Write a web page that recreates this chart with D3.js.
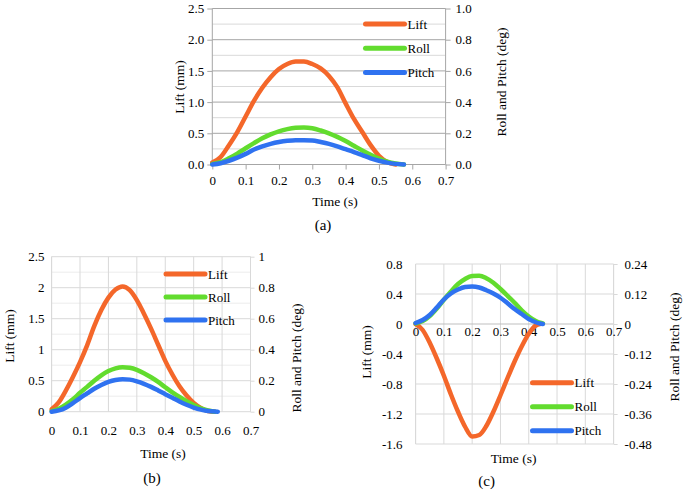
<!DOCTYPE html>
<html>
<head>
<meta charset="utf-8">
<script src="https://cdn.jsdelivr.net/npm/d3@7/dist/d3.min.js"></script>
<style>
html,body{margin:0;padding:0;background:#fff;}
svg{display:block;}
svg text{font-family:"Liberation Serif","Times New Roman",serif !important;fill:#000;}
</style>
</head>
<body>
<svg id="chart" width="685" height="492"></svg>
<script>
// ---------- DATA ----------
const seriesNames = ["Lift", "Roll", "Pitch"];
const xTicks = [0, 0.1, 0.2, 0.3, 0.4, 0.5, 0.6, 0.7];

// Panel (a)
const timeA  = [0,0.025,0.05,0.075,0.1,0.125,0.15,0.175,0.2,0.225,0.25,0.275,0.3,0.325,0.35,0.375,0.4,0.425,0.45,0.475,0.5,0.525,0.55,0.575];
const liftA  = [0.03,0.12,0.31,0.52,0.77,1.02,1.23,1.40,1.53,1.61,1.65,1.65,1.61,1.54,1.42,1.24,0.98,0.73,0.52,0.31,0.14,0.04,0.0,null];
const rollA  = [0.004,0.015,0.04,0.07,0.104,0.137,0.168,0.193,0.213,0.227,0.235,0.237,0.232,0.218,0.2,0.177,0.15,0.12,0.09,0.062,0.038,0.018,0.006,0.0];
const pitchA = [0,0.008,0.024,0.044,0.068,0.096,0.116,0.132,0.144,0.152,0.156,0.156,0.154,0.144,0.132,0.116,0.098,0.08,0.06,0.04,0.024,0.012,0.004,0.0];
const leftTicksA  = [0, 0.5, 1.0, 1.5, 2.0, 2.5];
const rightTicksA = [0, 0.2, 0.4, 0.6, 0.8, 1.0];

// Panel (b)
const timeB  = [0,0.025,0.05,0.075,0.1,0.125,0.15,0.175,0.2,0.225,0.25,0.275,0.3,0.325,0.35,0.375,0.4,0.425,0.45,0.475,0.5,0.525,0.55,0.575,0.585];
const liftB  = [0.04,0.15,0.34,0.56,0.80,1.07,1.38,1.64,1.84,1.97,2.02,1.96,1.80,1.58,1.34,1.08,0.82,0.60,0.41,0.26,0.14,0.06,0.01,0.0,null];
const rollB  = [0.004,0.018,0.045,0.08,0.122,0.16,0.2,0.235,0.262,0.28,0.287,0.283,0.27,0.248,0.222,0.192,0.158,0.125,0.095,0.067,0.043,0.022,0.008,0.0,null];
const pitchB = [0,0.008,0.026,0.055,0.088,0.118,0.148,0.172,0.192,0.205,0.21,0.207,0.196,0.18,0.16,0.137,0.113,0.09,0.066,0.045,0.027,0.013,0.005,0.001,0.0];
const leftTicksB  = [0, 0.5, 1, 1.5, 2, 2.5];
const rightTicksB = [0, 0.2, 0.4, 0.6, 0.8, 1];

// Panel (c)
const timeC  = [0,0.025,0.05,0.075,0.1,0.125,0.15,0.175,0.2,0.225,0.25,0.275,0.3,0.325,0.35,0.375,0.4,0.425,0.44,0.45];
const liftC  = [0,-0.08,-0.25,-0.46,-0.69,-0.94,-1.17,-1.37,-1.50,-1.48,-1.36,-1.17,-0.95,-0.72,-0.50,-0.30,-0.13,-0.02,0.0,null];
const rollC  = [0.002,0.012,0.032,0.062,0.097,0.13,0.16,0.18,0.192,0.193,0.183,0.165,0.14,0.113,0.085,0.055,0.03,0.012,0.005,0.002];
const pitchC = [0.004,0.016,0.036,0.066,0.098,0.122,0.138,0.148,0.15,0.146,0.135,0.122,0.105,0.083,0.06,0.04,0.02,0.007,0.002,0.0];
const leftTicksC  = [-1.6, -1.2, -0.8, -0.4, 0, 0.4, 0.8];
const rightTicksC = [-0.48, -0.36, -0.24, -0.12, 0, 0.12, 0.24];

// ---------- STYLE ----------
const FONT = '"Liberation Serif","Times New Roman",serif';
const colors = {Lift: "#F4672A", Roll: "#62DC2E", Pitch: "#2F72F0"};
const svg = d3.select("#chart");

function fmtNum(d, fixed) {
  return fixed ? d.toFixed(1) : String(+d.toFixed(2));
}

function panel(cfg) {
  const g = svg.append("g").style("font-family", FONT);
  const x = d3.scaleLinear().domain([0, 0.7]).range([cfg.left, cfg.right]);
  const yL = d3.scaleLinear().domain(cfg.yDomain).range([cfg.bottom, cfg.top]);
  const yR = d3.scaleLinear().domain(cfg.y2Domain).range([cfg.bottom, cfg.top]);

  if (cfg.minorY) {
    g.selectAll(".minor").data(cfg.minorY).enter().append("line")
      .attr("x1", cfg.left).attr("x2", cfg.right)
      .attr("y1", d => yL(d)).attr("y2", d => yL(d))
      .attr("stroke", cfg.minorColor).attr("stroke-width", 1);
  }
  if (cfg.vgrid) {
    g.selectAll(".vg").data(xTicks).enter().append("line")
      .attr("x1", d => x(d)).attr("x2", d => x(d))
      .attr("y1", cfg.top).attr("y2", cfg.bottom)
      .attr("stroke", cfg.gridColor).attr("stroke-width", 1);
  }
  g.selectAll(".maj").data(cfg.leftTicks).enter().append("line")
    .attr("x1", cfg.left).attr("x2", cfg.right)
    .attr("y1", d => yL(d)).attr("y2", d => yL(d))
    .attr("stroke", d => d === 0 ? cfg.zeroColor : cfg.gridColor).attr("stroke-width", 1);

  [cfg.left, cfg.right].forEach(xx => {
    g.append("line").attr("x1", xx).attr("x2", xx).attr("y1", cfg.top).attr("y2", cfg.bottom)
      .attr("stroke", cfg.axisColor).attr("stroke-width", 1);
  });

  const axL = d3.axisLeft(yL).tickValues(cfg.leftTicks).tickSize(cfg.leftTickSize)
    .tickPadding(cfg.leftPad).tickFormat(d => fmtNum(d, cfg.fixedLeft));
  const gL = g.append("g").attr("transform", `translate(${cfg.left},0)`).call(axL);
  const axR = d3.axisRight(yR).tickValues(cfg.rightTicks).tickSize(cfg.rightTickSize)
    .tickPadding(cfg.rightPad).tickFormat(d => fmtNum(d, cfg.fixedRight));
  const gR = g.append("g").attr("transform", `translate(${cfg.right},0)`).call(axR);
  const axB = d3.axisBottom(x).tickValues(xTicks).tickSize(cfg.bottomTickSize)
    .tickPadding(cfg.bottomPad).tickFormat(d => String(d));
  const gB = g.append("g").attr("transform", `translate(0,${yL(0)})`).call(axB);

  [gL, gR, gB].forEach(a => {
    a.attr("font-family", FONT).attr("font-size", cfg.fontSize);
    a.select(".domain").remove();
    a.selectAll(".tick line").attr("stroke", cfg.axisColor);
    a.selectAll(".tick text").style("font-family", FONT).attr("font-size", cfg.fontSize).attr("fill", "#000");
  });

  const lineL = d3.line().defined(d => d[1] !== null).x(d => x(d[0])).y(d => yL(d[1])).curve(d3.curveMonotoneX);
  const lineR = d3.line().defined(d => d[1] !== null).x(d => x(d[0])).y(d => yR(d[1])).curve(d3.curveMonotoneX);
  const pairs = (t, v) => t.map((tt, i) => [tt, v[i] === undefined ? null : v[i]]);
  g.append("path").attr("d", lineL(pairs(cfg.time, cfg.lift))).attr("fill", "none")
    .attr("stroke", colors.Lift).attr("stroke-width", 4.5).attr("stroke-linecap", "round").attr("stroke-linejoin", "round");
  g.append("path").attr("d", lineR(pairs(cfg.time, cfg.roll))).attr("fill", "none")
    .attr("stroke", colors.Roll).attr("stroke-width", 4.5).attr("stroke-linecap", "round").attr("stroke-linejoin", "round");
  g.append("path").attr("d", lineR(pairs(cfg.time, cfg.pitch))).attr("fill", "none")
    .attr("stroke", colors.Pitch).attr("stroke-width", 4.5).attr("stroke-linecap", "round").attr("stroke-linejoin", "round");

  seriesNames.forEach((n, i) => {
    const yy = cfg.legY + i * cfg.legStep;
    g.append("line").attr("x1", cfg.legX).attr("x2", cfg.legX + 39).attr("y1", yy).attr("y2", yy)
      .attr("stroke", colors[n]).attr("stroke-width", 5).attr("stroke-linecap", "round");
    g.append("text").attr("x", cfg.legX + 42).attr("y", yy + 4.5).style("font-family", FONT)
      .attr("font-size", cfg.fontSize).text(n);
  });

  g.append("text").attr("x", (cfg.left + cfg.right) / 2 + cfg.xTitleDx).attr("y", cfg.xTitleY)
    .attr("text-anchor", "middle").style("font-family", FONT).attr("font-size", cfg.titleSize).text("Time (s)");
  g.append("text").attr("transform", `translate(${cfg.yTitleX},${cfg.yTitleY}) rotate(-90)`)
    .attr("text-anchor", "middle").style("font-family", FONT).attr("font-size", cfg.titleSize).text("Lift (mm)");
  g.append("text").attr("transform", `translate(${cfg.y2TitleX},${cfg.y2TitleY}) rotate(-90)`)
    .attr("text-anchor", "middle").style("font-family", FONT).attr("font-size", cfg.titleSize).text("Roll and Pitch (deg)");
  g.append("text").attr("x", cfg.labX).attr("y", cfg.labY)
    .attr("text-anchor", "middle").style("font-family", FONT).attr("font-size", 15).text(cfg.label);
}

panel({
  left: 212.3, right: 445.6, top: 8.5, bottom: 164.5,
  yDomain: [0, 2.5], y2Domain: [0, 1.0],
  leftTicks: leftTicksA, rightTicks: rightTicksA,
  minorY: [0.25, 0.75, 1.25, 1.75, 2.25], minorColor: "#d9d9d9",
  gridColor: "#a6a6a6", zeroColor: "#a6a6a6", axisColor: "#a6a6a6", vgrid: false,
  leftTickSize: 5, leftPad: 3, rightTickSize: 5, rightPad: 5, bottomTickSize: 5, bottomPad: 6,
  fixedLeft: true, fixedRight: true, fontSize: 13, titleSize: 13.5,
  time: timeA, lift: liftA, roll: rollA, pitch: pitchA,
  legX: 365.5, legY: 24, legStep: 24.3,
  xTitleDx: 6, xTitleY: 206, yTitleX: 184, yTitleY: 87, y2TitleX: 506, y2TitleY: 82,
  label: "(a)", labX: 323, labY: 230
});

panel({
  left: 51.6, right: 250.5, top: 256.7, bottom: 411.7,
  yDomain: [0, 2.5], y2Domain: [0, 1],
  leftTicks: leftTicksB, rightTicks: rightTicksB,
  minorY: [0.25, 0.75, 1.25, 1.75, 2.25], minorColor: "#ececec",
  gridColor: "#d9d9d9", zeroColor: "#d9d9d9", axisColor: "#d9d9d9", vgrid: true,
  leftTickSize: 0, leftPad: 7, rightTickSize: 4, rightPad: 4, bottomTickSize: 0, bottomPad: 14,
  fixedLeft: false, fixedRight: false, fontSize: 13, titleSize: 13.5,
  time: timeB, lift: liftB, roll: rollB, pitch: pitchB,
  legX: 166, legY: 274, legStep: 23,
  xTitleDx: 12, xTitleY: 457.5, yTitleX: 14, yTitleY: 336, y2TitleX: 301, y2TitleY: 358,
  label: "(b)", labX: 152, labY: 483
});

panel({
  left: 415.6, right: 613.6, top: 264, bottom: 444,
  yDomain: [-1.6, 0.8], y2Domain: [-0.48, 0.24],
  leftTicks: leftTicksC, rightTicks: rightTicksC,
  minorY: null, minorColor: "#ececec",
  gridColor: "#d9d9d9", zeroColor: "#bfbfbf", axisColor: "#d9d9d9", vgrid: true,
  leftTickSize: 0, leftPad: 13, rightTickSize: 4, rightPad: 7, bottomTickSize: 0, bottomPad: 3,
  fixedLeft: false, fixedRight: false, fontSize: 13, titleSize: 13.5,
  time: timeC, lift: liftC, roll: rollC, pitch: pitchC,
  legX: 532.5, legY: 382.7, legStep: 24,
  xTitleDx: -1, xTitleY: 462.5, yTitleX: 371, yTitleY: 352, y2TitleX: 679, y2TitleY: 347,
  label: "(c)", labX: 486.7, labY: 486
});
</script>
</body>
</html>
